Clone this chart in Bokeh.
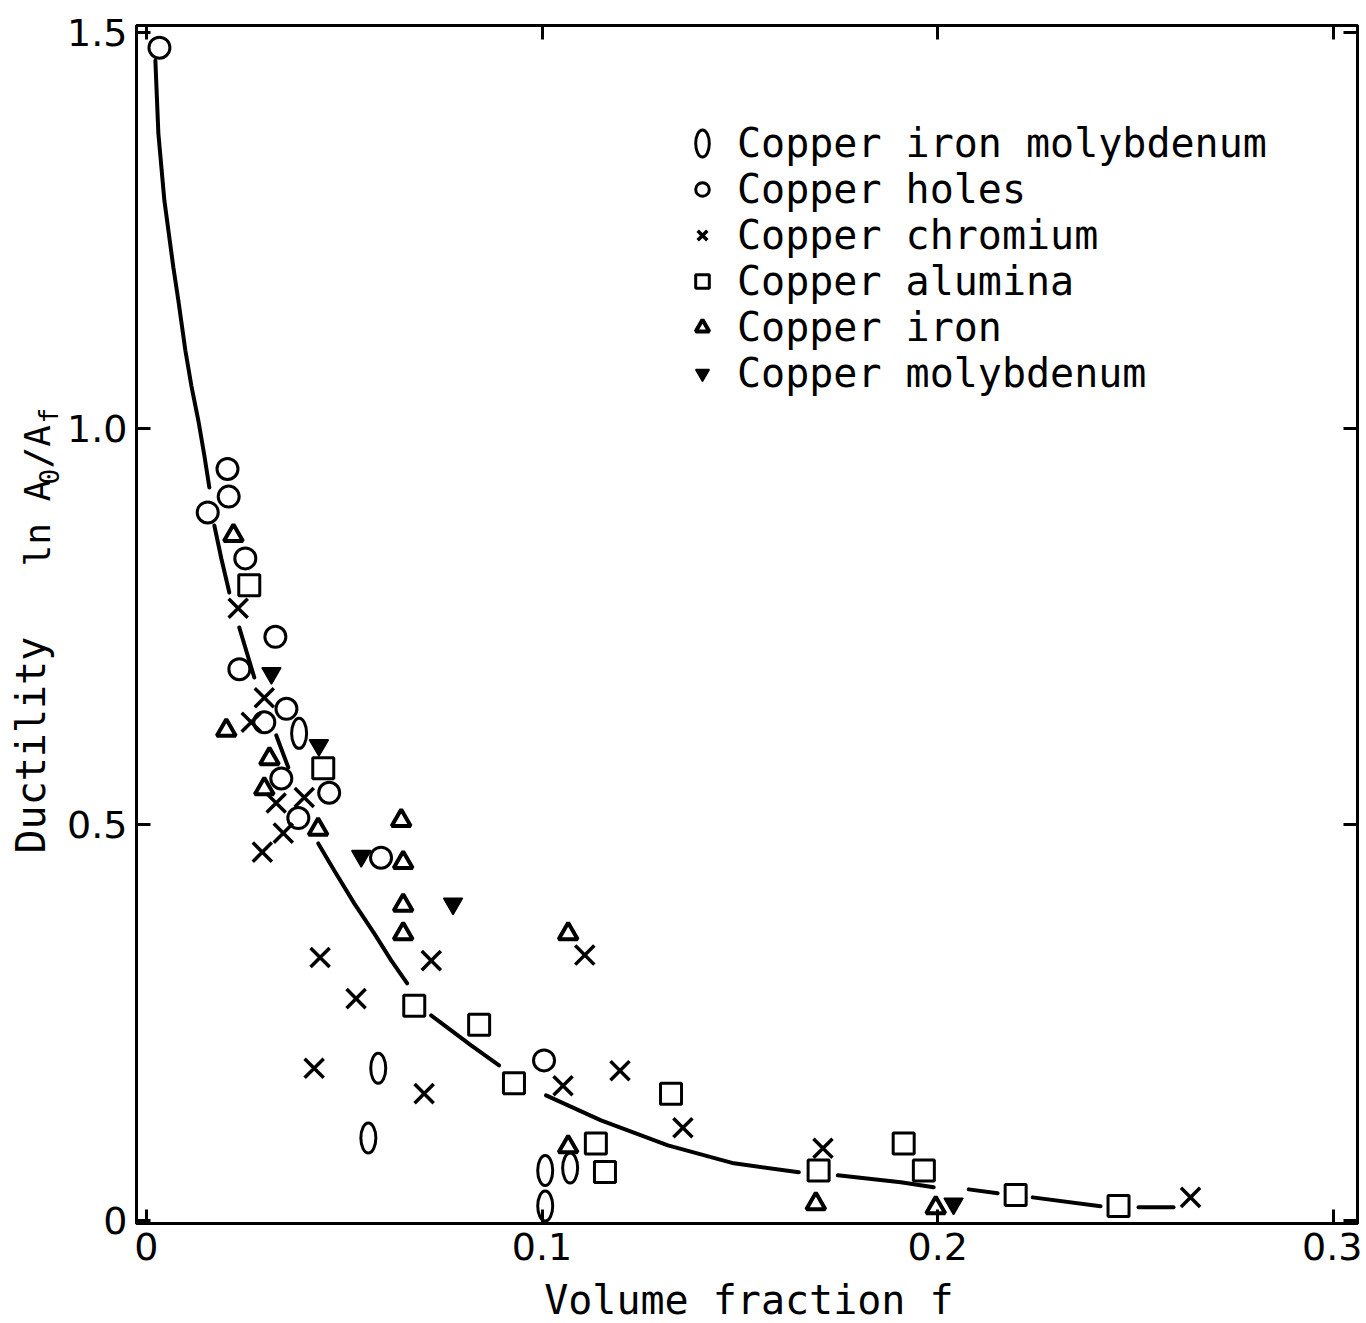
import math
from bokeh.plotting import figure
from bokeh.layouts import row, column
from bokeh.models import (Range1d, LinearAxis, FixedTicker, CustomJSTickFormatter,
                          Legend, LegendItem, Label)
from bokeh.embed import file_html
from bokeh.resources import INLINE

# ---------------- data ----------------
x_ticks = [0, 0.1, 0.2, 0.3]
y_ticks = [0, 0.5, 1.0, 1.5]
x_tick_labels = {0: "0", 0.1: "0.1", 0.2: "0.2", 0.3: "0.3"}
y_tick_labels = {0: "0", 0.5: "0.5", 1.0: "1.0", 1.5: "1.5"}

series_names = ["Copper iron molybdenum", "Copper holes", "Copper chromium",
                "Copper alumina", "Copper iron", "Copper molybdenum"]

fe_mo_x = [0.0386, 0.0586, 0.0561, 0.1008, 0.1071, 0.1008]
fe_mo_y = [0.615, 0.192, 0.104, 0.063, 0.066, 0.018]

holes_x = [0.0033, 0.0205, 0.0208, 0.0155, 0.0250, 0.0326, 0.0235, 0.0354,
           0.0298, 0.0341, 0.0462, 0.0384, 0.0593, 0.1005]
holes_y = [1.481, 0.949, 0.914, 0.894, 0.836, 0.737, 0.696, 0.646,
           0.629, 0.558, 0.540, 0.508, 0.458, 0.202]

chromium_x = [0.0232, 0.0298, 0.0265, 0.0328, 0.0399, 0.0346, 0.0293, 0.0439,
              0.0530, 0.0424, 0.0720, 0.0702, 0.1108, 0.1053, 0.1197, 0.1356,
              0.1710, 0.2639]
chromium_y = [0.773, 0.660, 0.629, 0.527, 0.534, 0.489, 0.465, 0.332,
              0.280, 0.192, 0.328, 0.160, 0.335, 0.170, 0.189, 0.117,
              0.091, 0.029]

alumina_x = [0.0260, 0.0447, 0.0677, 0.0841, 0.0929, 0.1326, 0.1136, 0.1159,
             0.1699, 0.1914, 0.1965, 0.2197, 0.2457]
alumina_y = [0.802, 0.571, 0.271, 0.247, 0.173, 0.160, 0.097, 0.061,
             0.063, 0.097, 0.063, 0.032, 0.018]

iron_x = [0.0220, 0.0202, 0.0311, 0.0298, 0.0434, 0.0644, 0.0649, 0.0649,
          0.0649, 0.1066, 0.1066, 0.1692, 0.1995]
iron_y = [0.865, 0.619, 0.583, 0.545, 0.494, 0.505, 0.452, 0.398,
          0.362, 0.362, 0.093, 0.021, 0.016]

moly_x = [0.0316, 0.0436, 0.0543, 0.0775, 0.2040]
moly_y = [0.691, 0.600, 0.460, 0.400, 0.021]

# hand-drawn trend curve, broken into segments around the markers
curve_xs = [
    [0.00227, 0.00303, 0.00455, 0.00682, 0.00808, 0.00985, 0.01136, 0.01313, 0.01465, 0.01591],
    [0.01717, 0.01894, 0.02096],
    [0.02348, 0.02727],
    [0.03283, 0.03586],
    [0.04343, 0.04747, 0.05253, 0.05758, 0.06187, 0.06591],
    [0.07197, 0.07702, 0.08207, 0.08914],
    [0.10101, 0.11490, 0.13182, 0.14848, 0.16490],
    [0.17475, 0.19066, 0.19899],
    [0.20783, 0.21515],
    [0.22399, 0.24116],
    [0.25076, 0.25960],
]
curve_ys = [
    [1.4646, 1.3725, 1.2879, 1.2033, 1.1616, 1.0985, 1.0543, 1.0101, 0.9659, 0.9255],
    [0.8775, 0.8359, 0.7929],
    [0.7487, 0.6856],
    [0.6124, 0.5720],
    [0.4760, 0.4419, 0.4003, 0.3624, 0.3283, 0.2992],
    [0.2588, 0.2399, 0.2210, 0.1957],
    [0.1578, 0.1263, 0.0947, 0.0720, 0.0606],
    [0.0568, 0.0480, 0.0417],
    [0.0391, 0.0341],
    [0.0290, 0.0177],
    [0.0164, 0.0164],
]

x_title = "Volume fraction f"
# y title pieces: (text, is_subscript)
y_title_parts = [("Ductility", False), ("ln A", False), ("0", True),
                 ("/A", False), ("f", True)]

# ---------------- layout constants ----------------
MONO = "DejaVu Sans Mono"
SANS = "DejaVu Sans"
PAGE_H = 1323
PAGE_W = 1362
YLAB_W = 64
XLAB_H = 46
MAIN_H = PAGE_H - XLAB_H
FRAME_TOP = 25
FRAME_BOTTOM_PAGE = 1223
LEFT_BORDER = 135

# ---------------- main figure ----------------
p = figure(width=PAGE_W - YLAB_W, height=MAIN_H, output_backend="svg",
           toolbar_location=None,
           x_range=Range1d(-0.0025, 0.3061), y_range=Range1d(-0.004, 1.509),
           min_border_left=LEFT_BORDER - YLAB_W, min_border_top=FRAME_TOP,
           min_border_right=5, min_border_bottom=MAIN_H - FRAME_BOTTOM_PAGE,
           x_axis_type=None, y_axis_type=None)
p.grid.visible = False
p.outline_line_color = "black"
p.outline_line_width = 3
p.background_fill_color = "white"
p.border_fill_color = "white"


def style_axis(ax, ticks, labels, show):
    ax.ticker = FixedTicker(ticks=ticks)
    ax.axis_line_color = "black"
    ax.axis_line_width = 3
    ax.major_tick_line_width = 3
    ax.major_tick_line_color = "black"
    ax.major_tick_in = 14
    ax.major_tick_out = 0
    ax.minor_tick_line_color = None
    if show:
        ax.major_label_overrides = labels
        ax.major_label_text_font = SANS
        ax.major_label_text_font_size = "38px"
        ax.major_label_text_color = "black"
    else:
        ax.formatter = CustomJSTickFormatter(code="return ''")
        ax.major_label_standoff = 0
        ax.major_label_text_font_size = "1px"


xb = LinearAxis()
style_axis(xb, x_ticks, x_tick_labels, True)
xb.major_label_standoff = 9
p.add_layout(xb, "below")

yl = LinearAxis()
style_axis(yl, y_ticks, y_tick_labels, True)
yl.major_label_standoff = 9
p.add_layout(yl, "left")

xt = LinearAxis()
style_axis(xt, x_ticks, x_tick_labels, False)
p.add_layout(xt, "above")

yr = LinearAxis()
style_axis(yr, y_ticks, y_tick_labels, False)
p.add_layout(yr, "right")

# curve
p.multi_line(curve_xs, curve_ys, line_color="black", line_width=4, line_cap="round")

# markers
r_femo = p.ellipse(fe_mo_x, fe_mo_y, width=15, height=30, width_units="screen",
                   height_units="screen", fill_color=None, line_color="black", line_width=3)
r_holes = p.scatter(holes_x, holes_y, marker="circle", size=21, fill_color=None,
                    line_color="black", line_width=3)
r_cr = p.scatter(chromium_x, chromium_y, marker="x", size=27, line_color="black",
                 line_width=3.5)
r_al = p.scatter(alumina_x, alumina_y, marker="square", size=21, fill_color=None,
                 line_color="black", line_width=3)
r_fe = p.scatter(iron_x, iron_y, marker="triangle", size=19, fill_color=None,
                 line_color="black", line_width=4)
r_mo = p.scatter(moly_x, moly_y, marker="inverted_triangle", size=19, fill_color="black",
                 line_color="black", line_width=1.5)

legend = Legend(items=[LegendItem(label=n, renderers=[r]) for n, r in
                       zip(series_names, [r_femo, r_holes, r_cr, r_al, r_fe, r_mo])],
                location=(549, 827), orientation="vertical",
                background_fill_alpha=0, border_line_color=None,
                label_text_font=MONO, label_text_font_size="40px",
                label_text_color="black", label_standoff=18,
                glyph_width=34, glyph_height=46, label_height=46,
                spacing=0, padding=0, margin=0)
p.add_layout(legend, "center")

# ---------------- x title strip (below the plot) ----------------
r = figure(width=PAGE_W - YLAB_W, height=XLAB_H, output_backend="svg",
           toolbar_location=None, x_range=p.x_range, y_range=Range1d(0, XLAB_H),
           min_border_left=LEFT_BORDER - YLAB_W, min_border_right=5,
           min_border_top=0, min_border_bottom=0,
           x_axis_type=None, y_axis_type=None)
r.grid.visible = False
r.outline_line_color = None
r.border_fill_color = "white"
r.background_fill_color = "white"
r.add_layout(Label(x=(748 - 145) / 3960, y=PAGE_H - 1299.5, text=x_title,
                   text_font=MONO, text_font_size="40px", text_align="center",
                   text_baseline="alphabetic", text_color="black"))

# ---------------- y title strip (page pixels) ----------------
q = figure(width=YLAB_W, height=PAGE_H, output_backend="svg", toolbar_location=None,
           x_range=Range1d(0, YLAB_W),
           y_range=Range1d(PAGE_H - FRAME_BOTTOM_PAGE, PAGE_H - FRAME_TOP),
           min_border_left=0, min_border_right=0, min_border_top=FRAME_TOP,
           min_border_bottom=PAGE_H - FRAME_BOTTOM_PAGE,
           x_axis_type=None, y_axis_type=None)
q.grid.visible = False
q.outline_line_color = None
q.border_fill_color = "white"
q.background_fill_color = "white"

# (anchor x, start y measured from page top, font size)
y_title_pos = [(30, 853, "40px"), (37, 566, "36px"), (48, 484, "26px"),
               (37, 468, "36px"), (48, 423, "26px")]
for (txt, _sub), (bx, py, fs) in zip(y_title_parts, y_title_pos):
    q.add_layout(Label(x=bx, y=PAGE_H - py, text=txt, text_font=MONO,
                       text_font_size=fs, angle=math.pi / 2, text_align="left",
                       text_baseline="alphabetic", text_color="black"))

layout = row(q, column(p, r, spacing=0), spacing=0)
open("out.html", "w").write(file_html(layout, INLINE))
